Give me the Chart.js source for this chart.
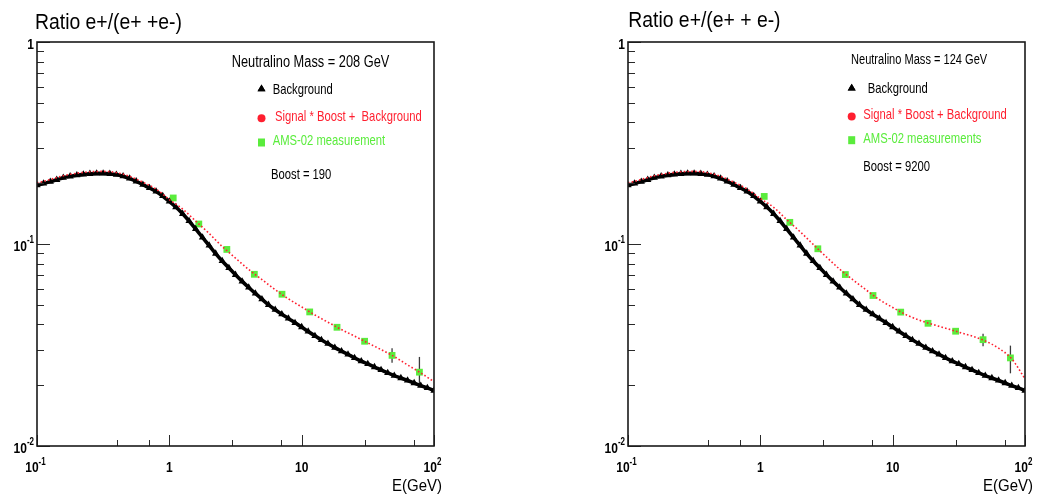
<!DOCTYPE html>
<html>
<head>
<meta charset="utf-8">
<script src="https://cdn.jsdelivr.net/npm/chart.js@4/dist/chart.umd.min.js"></script>
<style>
  html, body { margin: 0; padding: 0; background: #fff; }
  #wrap { position: relative; width: 1043px; height: 504px; overflow: hidden; }
  canvas { position: absolute; top: 0; }
  #left { left: 0; }
  #right { left: 591px; }
</style>
</head>
<body>
<div id="wrap">
  <canvas id="left" width="452" height="504"></canvas>
  <canvas id="right" width="452" height="504"></canvas>
</div>
<script>
// background e+/(e+ + e-) ratio
var bgEnergy = [0.1, 0.112, 0.126, 0.141, 0.158, 0.178, 0.2, 0.224, 0.251, 0.282,
  0.316, 0.355, 0.398, 0.447, 0.501, 0.562, 0.631, 0.708, 0.794, 0.891,
  1, 1.12, 1.26, 1.41, 1.58, 1.78, 2, 2.24, 2.51, 2.82,
  3.16, 3.55, 3.98, 4.47, 5.01, 5.62, 6.31, 7.08, 7.94, 8.91,
  10, 11.2, 12.6, 14.1, 15.8, 17.8, 20, 22.4, 25.1, 28.2,
  31.6, 35.5, 39.8, 44.7, 50.1, 56.2, 63.1, 70.8, 79.4, 89.1, 100];
var bgRatio = [0.1955, 0.1993, 0.2037, 0.2079, 0.2129, 0.2163, 0.2191, 0.2211, 0.2226, 0.2236,
  0.2236, 0.2226, 0.2206, 0.2166, 0.2110, 0.2044, 0.1968, 0.1893, 0.1822, 0.1729,
  0.1624, 0.1524, 0.1411, 0.1300, 0.1187, 0.1079, 0.0983, 0.0897, 0.0824, 0.0761,
  0.0704, 0.0653, 0.0609, 0.0569, 0.0533, 0.0500, 0.0473, 0.0449, 0.0428, 0.0407,
  0.0388, 0.0369, 0.0351, 0.0335, 0.0321, 0.0307, 0.0295, 0.0284, 0.0273, 0.0263,
  0.0255, 0.0246, 0.0238, 0.0230, 0.0223, 0.0217, 0.0211, 0.0205, 0.0199, 0.0194, 0.0188];

// signal * boost + background (red dotted)
var sigEnergy = [0.1, 0.126, 0.158, 0.2, 0.251, 0.316, 0.398, 0.501, 0.631, 0.794,
  1, 1.26, 1.58, 2, 2.51, 3.16, 3.98, 5.01, 6.31, 7.94,
  10, 12.6, 15.8, 20, 25.1, 31.6, 39.8, 50.1, 63.1, 79.4, 100];
var sigRatio208 = [0.2004, 0.2086, 0.2178, 0.2241, 0.2277, 0.2288, 0.2257, 0.2163, 0.2022, 0.1870,
  0.1660, 0.1490, 0.1300, 0.1127, 0.0972, 0.0852, 0.0748, 0.0667, 0.0594, 0.0535,
  0.0488, 0.0445, 0.0410, 0.0377, 0.0350, 0.0324, 0.0300, 0.0277, 0.0252, 0.0230, 0.0208];
var sigRatio124 = [0.2004, 0.2086, 0.2178, 0.2241, 0.2277, 0.2288, 0.2257, 0.2163, 0.2022, 0.1872,
  0.1680, 0.1520, 0.1320, 0.1150, 0.0995, 0.0862, 0.0750, 0.0665, 0.0592, 0.0530,
  0.0485, 0.0447, 0.0420, 0.0400, 0.0383, 0.0366, 0.0350, 0.0331, 0.0305, 0.0270, 0.0215];

// AMS-02 points (green squares) with error bar ends
var amsEnergy = [1.07, 1.67, 2.72, 4.39, 7.1, 11.5, 18.5, 29.9, 48.2, 77.6];
var amsRatio208 = [0.169, 0.1256, 0.094, 0.0708, 0.0564, 0.0461, 0.0387, 0.033, 0.0281, 0.0232];
var amsLow208 = [0.166, 0.1235, 0.0925, 0.0697, 0.0555, 0.0452, 0.0379, 0.0321, 0.0258, 0.0196];
var amsHigh208 = [0.172, 0.1277, 0.0955, 0.0719, 0.0573, 0.047, 0.0395, 0.0339, 0.0305, 0.0276];
var amsRatio124 = [0.172, 0.128, 0.0947, 0.0706, 0.0556, 0.046, 0.0405, 0.037, 0.0336, 0.0273];
var amsLow124 = [0.169, 0.126, 0.0932, 0.0695, 0.0547, 0.0451, 0.0397, 0.0361, 0.0312, 0.0229];
var amsHigh124 = [0.175, 0.130, 0.0962, 0.0717, 0.0565, 0.0469, 0.0413, 0.0379, 0.0359, 0.0314];

// axis labels
var xTickValues = [0.1, 1, 10, 100];
var xTickBase = ['10', '1', '10', '10'];
var xTickExp = ['-1', '', '', '2'];
var yTickValues = [1, 0.1, 0.01];
var yTickBase = ['1', '10', '10'];
var yTickExp = ['', '-1', '-2'];
var xTitle = 'E(GeV)';

// per-panel texts
var titles = ['Ratio e+/(e+ +e-)', 'Ratio e+/(e+ + e-)'];
var massLabels = ['Neutralino Mass = 208 GeV', 'Neutralino Mass = 124 GeV'];
var bgLabels = ['Background', 'Background'];
var sigLabels = ['Signal * Boost +  Background', 'Signal * Boost + Background'];
var amsLabels = ['AMS-02 measurement', 'AMS-02 measurements'];
var boostLabels = ['Boost = 190', 'Boost = 9200'];

var RED = '#ff1f2f';
var GREEN = '#5aec3c';
var FONT = '"Liberation Sans", Arial, sans-serif';

function pts(xs, ys) {
  return xs.map(function(x, i) { return { x: x, y: ys[i] }; });
}

// text squeezed horizontally, like the narrow helvetica in the original
function txt(ctx, s, x, y, size, sx, color, align, bold) {
  ctx.save();
  ctx.font = (bold ? 'bold ' : '') + size + 'px ' + FONT;
  var w = ctx.measureText(s).width * sx;
  var x0 = align === 'right' ? x - w : (align === 'center' ? x - w / 2 : x);
  ctx.translate(x0, y);
  ctx.scale(sx, 1);
  ctx.fillStyle = color;
  ctx.textAlign = 'left';
  ctx.textBaseline = 'alphabetic';
  ctx.fillText(s, 0, 0);
  ctx.restore();
  return w;
}

function measure(ctx, s, size, sx, bold) {
  ctx.save();
  ctx.font = (bold ? 'bold ' : '') + size + 'px ' + FONT;
  var w = ctx.measureText(s).width * sx;
  ctx.restore();
  return w;
}

function isDecade(v) {
  var l = Math.log10(v);
  return Math.abs(l - Math.round(l)) < 1e-6;
}

// keep only 1..9 x 10^n ticks (chart.js also makes 1.5, 15 ...)
function isWhole(v) {
  var m = v / Math.pow(10, Math.floor(Math.log10(v) + 1e-9));
  return Math.abs(m - Math.round(m)) < 1e-6;
}

var errorBars = {
  id: 'errorBars',
  beforeDatasetsDraw: function(chart, args, opts) {
    var ctx = chart.ctx, xs = chart.scales.x, ys = chart.scales.y;
    ctx.save();
    ctx.strokeStyle = '#3a3a3a';
    ctx.lineWidth = 1.3;
    amsEnergy.forEach(function(e, i) {
      var px = xs.getPixelForValue(e);
      ctx.beginPath();
      ctx.moveTo(px, ys.getPixelForValue(opts.low[i]));
      ctx.lineTo(px, ys.getPixelForValue(opts.high[i]));
      ctx.stroke();
    });
    ctx.restore();
  }
};

var rootFrame = {
  id: 'rootFrame',
  afterDraw: function(chart, args, o) {
    var ctx = chart.ctx, a = chart.chartArea, xs = chart.scales.x, ys = chart.scales.y;
    ctx.save();

    // tick marks inside the frame, from the log scales' own ticks
    ctx.strokeStyle = '#2a2a2a';
    ctx.lineWidth = 1;
    xs.ticks.filter(function(t) { return isWhole(t.value); }).forEach(function(t) {
      var px = Math.round(xs.getPixelForValue(t.value)) + 0.5;
      var len = isDecade(t.value) ? 11 : 6;
      ctx.beginPath(); ctx.moveTo(px, a.bottom); ctx.lineTo(px, a.bottom - len); ctx.stroke();
    });
    ys.ticks.filter(function(t) { return isWhole(t.value); }).forEach(function(t) {
      var py = Math.round(ys.getPixelForValue(t.value)) + 0.5;
      var len = isDecade(t.value) ? 13 : 7;
      ctx.beginPath(); ctx.moveTo(a.left, py); ctx.lineTo(a.left + len, py); ctx.stroke();
    });

    // frame
    ctx.strokeStyle = '#1a1a1a';
    ctx.lineWidth = 1.6;
    ctx.strokeRect(a.left, a.top, a.right - a.left, a.bottom - a.top);

    // x tick labels
    xTickValues.forEach(function(v, i) {
      var px = xs.getPixelForValue(v);
      var wb = measure(ctx, xTickBase[i], 15, 0.8, true);
      var we = xTickExp[i] ? measure(ctx, xTickExp[i], 10, 0.8, true) : 0;
      var x0 = px - (wb + we) / 2 - (we ? 1.5 : 0);
      txt(ctx, xTickBase[i], x0, 472, 15, 0.8, '#000', 'left', true);
      if (we) txt(ctx, xTickExp[i], x0 + wb, 464.5, 10, 0.8, '#000', 'left', true);
    });
    // y tick labels
    yTickValues.forEach(function(v, i) {
      var py = ys.getPixelForValue(v);
      var we = yTickExp[i] ? measure(ctx, yTickExp[i], 10, 0.8, true) : 0;
      var right = 34;
      if (we) txt(ctx, yTickExp[i], right, py - 1, 10, 0.8, '#000', 'right', true);
      txt(ctx, yTickBase[i], right - we, py + 6.5, 15, 0.8, '#000', 'right', true);
    });
    txt(ctx, xTitle, 442, 490.5, 17, 0.88, '#000', 'right', false);

    // title
    txt(ctx, o.title, o.titleX, o.titleY, 22, 0.88, '#000', 'left', false);

    // legend block
    var L = o.legend;
    txt(ctx, o.mass, L.massX, L.massY, L.massSize, L.massSx, '#000', 'left', false);
    Chart.helpers.drawPoint(ctx, { pointStyle: 'triangle', radius: 4.6, borderWidth: 0 }, L.mx, L.bgY - 5);
    ctx.fillStyle = '#000'; ctx.fill();
    txt(ctx, o.bg, L.bgX, L.bgY, 15, 0.75, '#000', 'left', false);
    ctx.fillStyle = RED;
    ctx.beginPath(); ctx.arc(L.mx, L.sigY - 2.5, 4, 0, Math.PI * 2); ctx.fill();
    txt(ctx, o.sig, L.sigX, L.sigY, 15, 0.75, RED, 'left', false);
    ctx.fillStyle = GREEN;
    ctx.fillRect(L.mx - 3.5, L.amsY - 6.5, 7, 8);
    txt(ctx, o.ams, L.amsX, L.amsY, 15, 0.75, GREEN, 'left', false);
    txt(ctx, o.boost, L.boostX, L.boostY, 15, 0.75, '#000', 'left', false);
    ctx.restore();
  }
};

function makePanel(id, k, sigRatio, amsRatio, amsLow, amsHigh, layout) {
  return new Chart(document.getElementById(id), {
    type: 'scatter',
    data: {
      datasets: [
        {
          label: sigLabels[k],
          data: pts(sigEnergy, sigRatio),
          showLine: true,
          borderColor: RED,
          borderWidth: 1.6,
          borderDash: [1.6, 2.2],
          pointRadius: 0,
          cubicInterpolationMode: 'monotone'
        },
        {
          label: bgLabels[k],
          data: pts(bgEnergy, bgRatio),
          showLine: true,
          borderColor: '#000',
          borderWidth: 3.6,
          pointStyle: 'triangle',
          pointRadius: 4.2,
          pointBorderWidth: 0,
          pointBackgroundColor: '#000',
          cubicInterpolationMode: 'monotone'
        },
        {
          label: amsLabels[k],
          data: pts(amsEnergy, amsRatio),
          pointStyle: 'rect',
          pointRadius: 4.8,
          pointBorderWidth: 0,
          pointBackgroundColor: GREEN
        }
      ]
    },
    options: {
      responsive: false,
      animation: false,
      events: [],
      layout: { padding: { left: 37, top: 42, right: 18, bottom: 58 } },
      plugins: {
        legend: { display: false },
        tooltip: { enabled: false },
        errorBars: { low: amsLow, high: amsHigh },
        rootFrame: layout
      },
      scales: {
        x: { type: 'logarithmic', min: 0.1, max: 100, display: false },
        y: { type: 'logarithmic', min: 0.01, max: 1, display: false }
      }
    },
    plugins: [errorBars, rootFrame]
  });
}

makePanel('left', 0, sigRatio208, amsRatio208, amsLow208, amsHigh208, {
  title: titles[0], titleX: 35, titleY: 29,
  mass: massLabels[0], bg: bgLabels[0], sig: sigLabels[0], ams: amsLabels[0], boost: boostLabels[0],
  legend: { massX: 231.7, massY: 67, massSize: 16, massSx: 0.8, mx: 261.5,
    bgX: 272.7, bgY: 94, sigX: 275, sigY: 120.7, amsX: 272.7, amsY: 145, boostX: 271, boostY: 179 }
});
makePanel('right', 1, sigRatio124, amsRatio124, amsLow124, amsHigh124, {
  title: titles[1], titleX: 37.3, titleY: 27,
  mass: massLabels[1], bg: bgLabels[1], sig: sigLabels[1], ams: amsLabels[1], boost: boostLabels[1],
  legend: { massX: 260, massY: 64, massSize: 14, massSx: 0.79, mx: 260.7,
    bgX: 276.7, bgY: 93.3, sigX: 272.3, sigY: 119, amsX: 272.3, amsY: 142.7, boostX: 272.3, boostY: 170.7 }
});
</script>
</body>
</html>
